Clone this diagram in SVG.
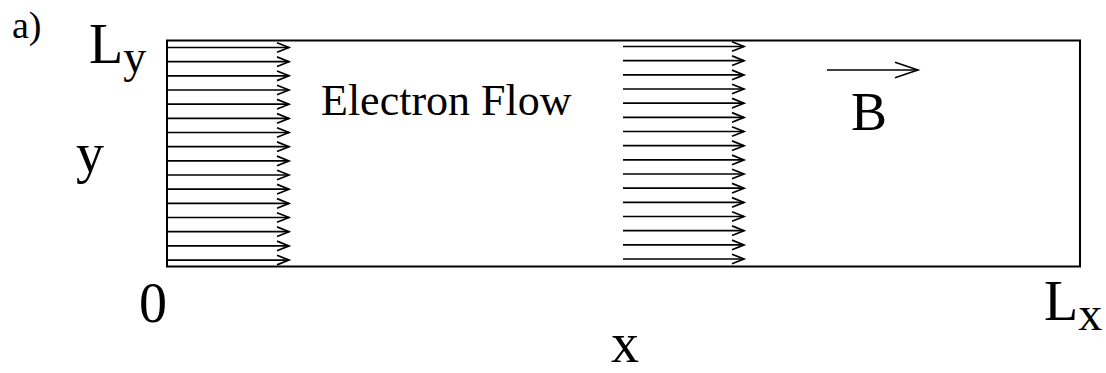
<svg xmlns="http://www.w3.org/2000/svg" width="1106" height="373" viewBox="0 0 1106 373">
<style>
text{font-family:"Liberation Serif","Times New Roman",Times,"Nimbus Roman","Tinos","DejaVu Serif","FreeSerif",serif;fill:#000}
.frame{fill:none;stroke:#000;stroke-width:2}
.flow line{stroke:#000;stroke-width:1.7;marker-end:url(#head)}
</style>
<defs>
<marker id="head" markerUnits="userSpaceOnUse" markerWidth="16" markerHeight="14" viewBox="-14 -7 16 14" refX="0" refY="0" orient="auto" overflow="visible">
<path d="M-12,-4.8 L0,0 L-12,4.8" fill="none" stroke="#000" stroke-width="1.7"/>
</marker>
<marker id="headB" markerUnits="userSpaceOnUse" markerWidth="28" markerHeight="20" viewBox="-26 -10 28 20" refX="0" refY="0" orient="auto" overflow="visible">
<path d="M-23,-7.8 L0,0 L-23,7.8" fill="none" stroke="#000" stroke-width="1.6"/>
</marker>
</defs>
<rect width="1106" height="373" fill="#fff"/>
<g id="panel-label"><text x="12" y="38" font-size="38">a)</text></g>
<g id="frame"><rect class="frame" x="167" y="40.5" width="913" height="226"/></g>
<g id="connectors">
<g id="flow-left" class="flow">
<line x1="167" y1="47.5" x2="289" y2="47.5"/>
<line x1="167" y1="61.7" x2="289" y2="61.7"/>
<line x1="167" y1="75.8" x2="289" y2="75.8"/>
<line x1="167" y1="90" x2="289" y2="90"/>
<line x1="167" y1="104.2" x2="289" y2="104.2"/>
<line x1="167" y1="118.4" x2="289" y2="118.4"/>
<line x1="167" y1="132.5" x2="289" y2="132.5"/>
<line x1="167" y1="146.7" x2="289" y2="146.7"/>
<line x1="167" y1="160.9" x2="289" y2="160.9"/>
<line x1="167" y1="175" x2="289" y2="175"/>
<line x1="167" y1="189.2" x2="289" y2="189.2"/>
<line x1="167" y1="203.4" x2="289" y2="203.4"/>
<line x1="167" y1="217.5" x2="289" y2="217.5"/>
<line x1="167" y1="231.7" x2="289" y2="231.7"/>
<line x1="167" y1="245.9" x2="289" y2="245.9"/>
<line x1="167" y1="260.1" x2="289" y2="260.1"/>
</g>
<g id="flow-right" class="flow">
<line x1="623" y1="46.5" x2="744" y2="46.5"/>
<line x1="623" y1="60.7" x2="744" y2="60.7"/>
<line x1="623" y1="74.9" x2="744" y2="74.9"/>
<line x1="623" y1="89" x2="744" y2="89"/>
<line x1="623" y1="103.2" x2="744" y2="103.2"/>
<line x1="623" y1="117.4" x2="744" y2="117.4"/>
<line x1="623" y1="131.5" x2="744" y2="131.5"/>
<line x1="623" y1="145.7" x2="744" y2="145.7"/>
<line x1="623" y1="159.9" x2="744" y2="159.9"/>
<line x1="623" y1="174" x2="744" y2="174"/>
<line x1="623" y1="188.2" x2="744" y2="188.2"/>
<line x1="623" y1="202.4" x2="744" y2="202.4"/>
<line x1="623" y1="216.5" x2="744" y2="216.5"/>
<line x1="623" y1="230.7" x2="744" y2="230.7"/>
<line x1="623" y1="244.9" x2="744" y2="244.9"/>
<line x1="623" y1="259" x2="744" y2="259"/>
</g>
<g id="b-arrow"><line x1="827" y1="70" x2="918" y2="70" stroke="#000" stroke-width="1.6" marker-end="url(#headB)"/></g>
</g>
<g id="label-Ly"><text x="89" y="63" font-size="56">L<tspan font-size="46" dy="9">y</tspan></text></g>
<g id="label-electron-flow"><text x="321" y="115" font-size="44">Electron Flow</text></g>
<g id="label-B"><text x="851" y="130" font-size="54">B</text></g>
<g id="label-y"><text x="76" y="172" font-size="56">y</text></g>
<g id="label-0"><text x="139" y="322" font-size="56">0</text></g>
<g id="label-Lx"><text x="1044" y="320" font-size="56">L<tspan font-size="48" dy="10">x</tspan></text></g>
<g id="label-x"><text x="611" y="362" font-size="56">x</text></g>
</svg>
